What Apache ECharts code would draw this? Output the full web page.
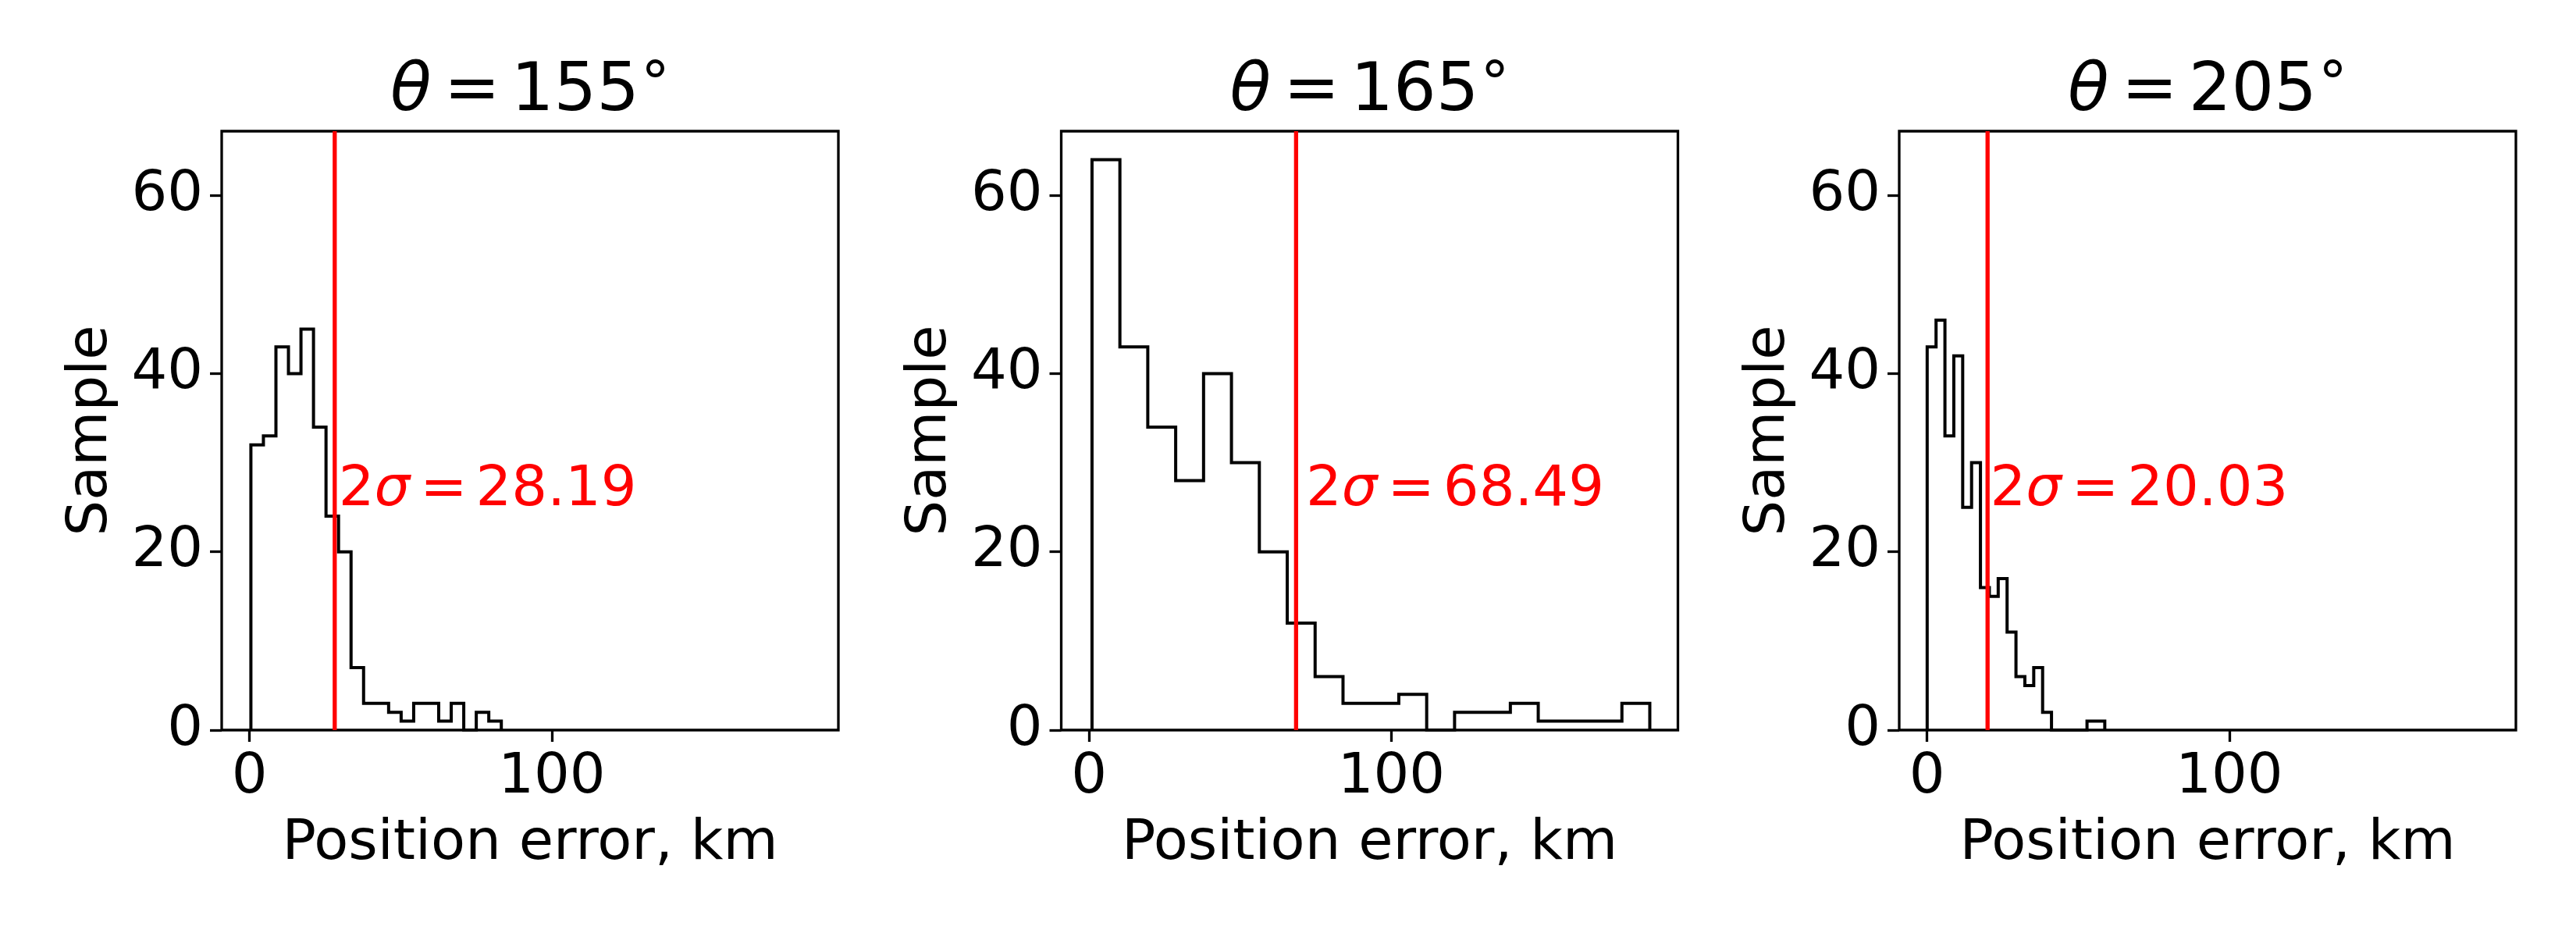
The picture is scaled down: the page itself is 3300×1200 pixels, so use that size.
<!DOCTYPE html>
<html>
<head>
<meta charset="utf-8">
<script src="https://cdn.jsdelivr.net/npm/echarts@6/dist/echarts.min.js"></script>
<style>
  html, body { margin: 0; background: #fff; }
  #chart { width: 3300px; height: 1200px; }
</style>
</head>
<body>
<div id="chart"></div>
<script>
// one panel per angle
const angles = [155, 165, 205];
const twoSigma = [28.19, 68.49, 20.03];

// histogram: first/last bin edge (km) and the 20 bin counts
const binRange155 = [0.46, 83.3];
const binRange165 = [0.98, 185.5];
const binRange205 = [0.05, 58.8];
const counts155 = [32, 33, 43, 40, 45, 34, 24, 20, 7, 3, 3, 2, 1, 3, 3, 1, 3, 0, 2, 1];
const counts165 = [64, 43, 34, 28, 40, 30, 20, 12, 6, 3, 3, 4, 0, 2, 2, 3, 1, 1, 1, 3];
const counts205 = [43, 46, 33, 42, 25, 30, 16, 15, 17, 11, 6, 5, 7, 2, 0, 0, 0, 0, 1, 1];

// where the 2-sigma note sits (km, samples)
const noteX = [29.6, 71.9, 21.0];
const noteY = 25;

const xTicks = [0, 100];
const yTicks = [0, 20, 40, 60];
const xRange = [-9.2, 194.8];
const yRange = [0, 67.2];

const binRanges = [binRange155, binRange165, binRange205];
const counts = [counts155, counts165, counts205];

const FONT = 'DejaVu Sans';
const RED = '#ff0000';
const gridLefts = [284, 1359.5, 2433];
const gridTop = 168, gridW = 790, gridH = 767;

// matplotlib histtype='step' outline
function stepPoints(range, c) {
  const w = (range[1] - range[0]) / c.length;
  const pts = [[range[0], 0]];
  c.forEach((v, i) => {
    pts.push([range[0] + i * w, v]);
    pts.push([range[0] + (i + 1) * w, v]);
  });
  pts.push([range[1], 0]);
  return pts;
}

const grids = [], xAxes = [], yAxes = [], series = [], graphics = [];

angles.forEach((ang, i) => {
  grids.push({
    left: gridLefts[i], top: gridTop, width: gridW, height: gridH,
    show: true, borderColor: '#000', borderWidth: 3.3, backgroundColor: 'transparent'
  });
  xAxes.push({
    type: 'value', gridIndex: i, min: xRange[0], max: xRange[1],
    axisLine: { show: false, onZero: false },
    splitLine: { show: false },
    axisTick: { show: true, length: 15, customValues: xTicks, lineStyle: { color: '#000', width: 3.3 } },
    axisLabel: { customValues: xTicks, margin: 25, color: '#000', fontSize: 72, fontFamily: FONT },
    name: 'Position error, km', nameLocation: 'middle', nameGap: 110,
    nameTextStyle: { color: '#000', fontSize: 72, fontFamily: FONT }
  });
  yAxes.push({
    type: 'value', gridIndex: i, min: yRange[0], max: yRange[1],
    axisLine: { show: false, onZero: false },
    splitLine: { show: false },
    axisTick: { show: true, length: 15, customValues: yTicks, lineStyle: { color: '#000', width: 3.3 } },
    axisLabel: { customValues: yTicks, margin: 24, color: '#000', fontSize: 72, fontFamily: FONT },
    name: 'Sample', nameLocation: 'middle', nameRotate: 90, nameGap: 131,
    nameTextStyle: { color: '#000', fontSize: 72, fontFamily: FONT }
  });

  series.push({
    type: 'line', xAxisIndex: i, yAxisIndex: i, z: 2,
    data: stepPoints(binRanges[i], counts[i]),
    symbol: 'none', animation: false,
    lineStyle: { color: '#000', width: 4, join: 'miter', cap: 'butt' }
  });
  series.push({
    type: 'line', xAxisIndex: i, yAxisIndex: i, z: 3,
    data: [[twoSigma[i], yRange[0]], [twoSigma[i], yRange[1]]],
    symbol: 'none', animation: false,
    lineStyle: { color: RED, width: 5.3 }
  });
  series.push({
    type: 'scatter', xAxisIndex: i, yAxisIndex: i, z: 4,
    data: [[noteX[i], noteY]],
    symbolSize: 1, itemStyle: { color: 'transparent' }, animation: false,
    emphasis: { disabled: true },
    label: {
      show: true, position: [0, 0], align: 'left', verticalAlign: 'middle', offset: [0, -21],
      color: RED, opacity: 1, textBorderWidth: 0, textShadowBlur: 0,
      formatter: '{n|2}{i|σ}{e|=}{n|' + twoSigma[i].toFixed(2) + '}',
      rich: {
        n: { color: RED, fontSize: 72, fontFamily: FONT, textBorderWidth: 0 },
        i: { color: RED, fontSize: 72, fontFamily: FONT, fontStyle: 'italic', textBorderWidth: 0 },
        e: { color: RED, fontSize: 72, fontFamily: FONT, padding: [0, 11, 0, 13], textBorderWidth: 0 }
      }
    }
  });

  graphics.push({
    type: 'text', x: gridLefts[i] + gridW / 2, y: 119,
    style: {
      text: '{i|θ}{e|=}{n|' + ang + '}{d|°}',
      align: 'center', verticalAlign: 'middle',
      rich: {
        n: { fill: '#000', fontSize: 86, fontFamily: FONT },
        d: { fill: '#000', fontSize: 74, fontFamily: FONT, padding: [0, 0, 14, 2] },
        i: { fill: '#000', fontSize: 86, fontFamily: FONT, fontStyle: 'italic' },
        e: { fill: '#000', fontSize: 86, fontFamily: FONT, padding: [0, 14, 0, 16] }
      }
    }
  });
});

const chart = echarts.init(document.getElementById('chart'));
chart.setOption({
  animation: false,
  backgroundColor: '#fff',
  grid: grids,
  xAxis: xAxes,
  yAxis: yAxes,
  series: series,
  graphic: graphics
});
window.addEventListener('resize', () => chart.resize());
</script>
</body>
</html>
